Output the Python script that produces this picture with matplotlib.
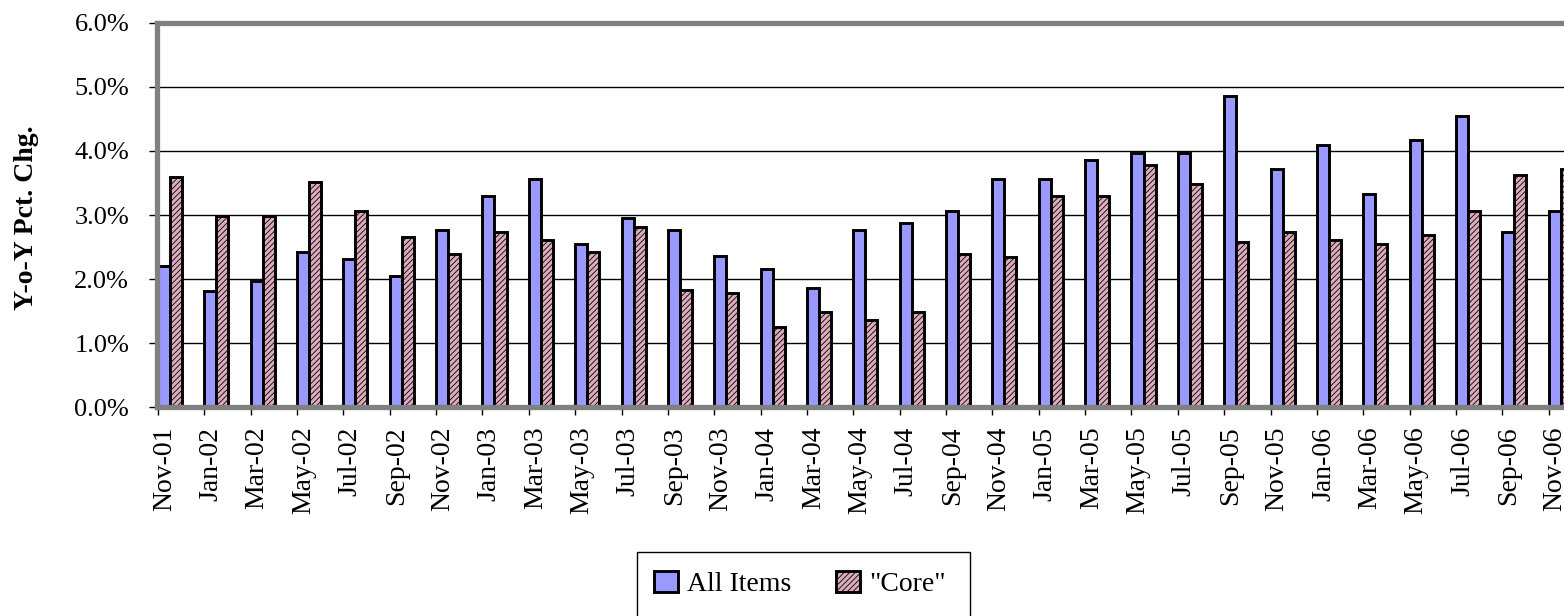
import numpy as np
import matplotlib
matplotlib.use("Agg")
from matplotlib import pyplot as plt
from matplotlib import patches as mpatches

months = ["Nov-01", "Jan-02", "Mar-02", "May-02", "Jul-02", "Sep-02", "Nov-02",
          "Jan-03", "Mar-03", "May-03", "Jul-03", "Sep-03", "Nov-03", "Jan-04",
          "Mar-04", "May-04", "Jul-04", "Sep-04", "Nov-04", "Jan-05", "Mar-05",
          "May-05", "Jul-05", "Sep-05", "Nov-05", "Jan-06", "Mar-06", "May-06",
          "Jul-06", "Sep-06", "Nov-06"]
all_items = [2.20, 1.81, 1.97, 2.43, 2.32, 2.05, 2.77, 3.30, 3.56, 2.54, 2.95,
             2.77, 2.36, 2.16, 1.86, 2.77, 2.88, 3.07, 3.56, 3.56, 3.86, 3.97,
             3.97, 4.85, 3.71, 4.09, 3.33, 4.17, 4.54, 2.73, 3.07]
core = [3.60, 2.99, 2.99, 3.52, 3.07, 2.66, 2.39, 2.73, 2.61, 2.43, 2.81,
        1.83, 1.78, 1.25, 1.48, 1.36, 1.48, 2.39, 2.35, 3.30, 3.30, 3.78,
        3.48, 2.58, 2.73, 2.61, 2.54, 2.69, 3.07, 3.63, 3.71]
y_ticks = [0, 1, 2, 3, 4, 5, 6]

plt.rcParams["font.family"] = ["Liberation Serif", "DejaVu Serif"]
plt.rcParams["hatch.linewidth"] = 0.6
plt.rcParams["hatch.color"] = "#b07f92"

fig = plt.figure(figsize=(15.64, 6.16), dpi=100)
ax = fig.add_axes([157/1564, 208.7/616, 1 - 157/1564, 384.6/616])

x = np.arange(len(months))
w = 0.26
ax.bar(x, all_items, width=w, align="edge", color="#9999ff",
       edgecolor="black", linewidth=2.1, label="All Items", zorder=3)
ax.bar(x + w, core, width=w, align="edge", color="#dcacbe", hatch="//////",
       edgecolor="black", linewidth=2.1, label='"Core"', zorder=3)

ax.set_xlim(-0.02, 30.33)
ax.set_ylim(0, 6)
ax.set_yticks(y_ticks)
ax.set_yticklabels(["%.1f%%" % v for v in y_ticks], fontsize=19)

# tick marks on the categories, labels sit a little to the right
ax.set_xticks(x)
ax.set_xticklabels([])
ax.set_xticks(x + 0.14, minor=True)
ax.set_xticklabels(months, minor=True, rotation=90, fontsize=20)
ax.tick_params(axis="x", which="minor", length=0, pad=14)
ax.tick_params(axis="x", which="major", length=6, width=1, color="black")
ax.tick_params(axis="y", length=6, width=1, pad=14, color="black")

for v in y_ticks[1:-1]:
    ax.axhline(v, color="black", linewidth=1.0, zorder=1)

for s in ["left", "top", "bottom"]:
    ax.spines[s].set_color("#808080")
    ax.spines[s].set_linewidth(3.8)
    ax.spines[s].set_zorder(4)
ax.spines["right"].set_visible(False)

fig.text(27/1564, 1 - 218/616, "Y-o-Y Pct. Chg.", rotation=90, fontsize=20,
         fontweight="bold", ha="center", va="center")

leg = fig.legend(loc="upper center", bbox_to_anchor=(800/1564, 1 - 563/616),
                 ncol=2, fontsize=20, frameon=False, handlelength=0.85,
                 handleheight=0.75, handletextpad=0.35, columnspacing=1.6,
                 borderaxespad=0, borderpad=0.3)
for h in leg.legend_handles:
    h.set_linewidth(2.1)
fig.patches.append(mpatches.Rectangle((637/1564, -0.05), 333/1564, 0.05 + 64/616,
                                      transform=fig.transFigure, fill=False,
                                      edgecolor="black", linewidth=1.0))

fig.savefig("out.png", dpi=100)
